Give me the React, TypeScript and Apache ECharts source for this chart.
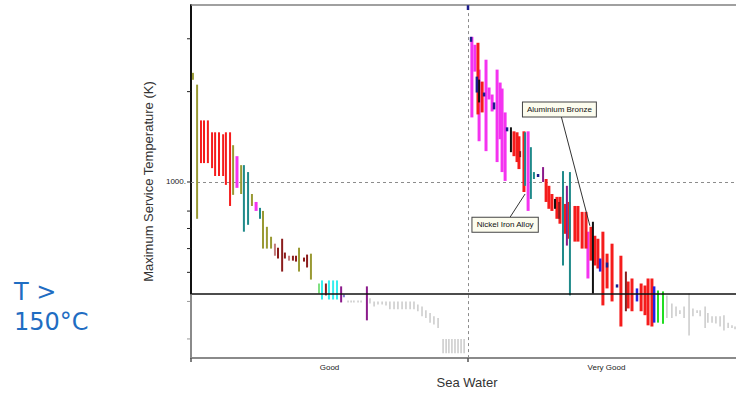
import { useEffect, useRef } from 'react';
import * as echarts from 'echarts';

// Maximum service temperature (K) ranges, each entry: [sea-water rating position, low, high]
const oliveBars = [
  [0.007, 2190, 2310], [0.022, 754, 2110], [0.152, 906, 1326], [0.181, 912, 1138],
  [0.22, 832, 912], [0.26, 600, 801], [0.274, 600, 709], [0.289, 600, 657],
  [0.39, 503, 604], [0.433, 473, 577],
];
const redBarsGood = [
  [0.036, 1156, 1604], [0.047, 1156, 1604], [0.061, 1156, 1604], [0.076, 1112, 1464],
  [0.087, 1047, 1464], [0.101, 1047, 1464], [0.116, 1047, 1442], [0.126, 978, 1464],
  [0.141, 832, 1464],
];
const redBarsVeryGood = [
  [1.036, 1679, 2909], [1.051, 1705, 2160], [1.166, 1219, 1475], [1.177, 1165, 1464],
  [1.184, 1104, 1420], [1.202, 926, 1475], [1.282, 858, 1023], [1.292, 814, 971],
  [1.303, 801, 912], [1.321, 754, 892], [1.332, 726, 892], [1.35, 672, 845],
  [1.365, 647, 858], [1.386, 633, 832], [1.397, 633, 832], [1.412, 600, 795],
  [1.426, 600, 795], [1.444, 547, 709], [1.458, 527, 662], [1.469, 515, 647],
  [1.487, 388, 683], [1.502, 442, 577], [1.52, 400, 623], [1.552, 330, 568],
  [1.578, 379, 466], [1.592, 371, 477], [1.625, 371, 459], [1.639, 360, 452],
  [1.65, 333, 477], [1.664, 330, 477],
];
const magentaBars = [
  [0.166, 956, 1219], [0.235, 801, 858],
  [1.014, 1641, 3045], [1.025, 2332, 2865], [1.04, 1367, 2368], [1.065, 1267, 2555],
  [1.076, 1883, 2064], [1.087, 1718, 1956], [1.105, 1165, 2368], [1.116, 1388, 2144],
  [1.123, 1079, 2048], [1.134, 1008, 1705], [1.217, 801, 1475], [1.433, 477, 683],
];
const tealBars = [
  [0.191, 683, 1138], [0.206, 720, 1079], [0.249, 754, 820],
  [1.206, 971, 1464], [1.227, 878, 1306], [1.238, 1023, 1079], [1.343, 527, 1087],
  [1.368, 419, 1079],
];
const darkRedBars = [
  [0.314, 556, 604], [0.329, 503, 647], [0.339, 556, 582], [0.368, 547, 568],
  [0.379, 543, 568], [0.408, 543, 560], [0.419, 519, 573], [0.487, 419, 459],
  [1.188, 1210, 1267], [1.329, 754, 858], [1.57, 371, 503],
];
const rosyBars = [[0.303, 568, 623], [0.354, 547, 568]];
const cyanBars = [[0.473, 406, 470], [0.498, 406, 470], [0.513, 406, 470], [0.527, 406, 470]];
const lightGreenBars = [[0.462, 425, 459]];
const purpleBars = [[0.542, 397, 449], [0.635, 346, 449], [1.271, 1000, 1121], [1.357, 614, 971]];
const lavenderBars = [[0.552, 413, 422]];
const navyBars = [
  [1.0, 3740, 3880], [1.011, 2931, 3045], [1.032, 1986, 2244], [1.058, 1927, 1986],
  [1.094, 1745, 1841], [1.141, 1475, 1521], [1.253, 1039, 1063], [1.502, 519, 539],
  [1.538, 445, 456],
];
const blackBars = [[1.04, 1841, 2193], [1.155, 1257, 1521], [1.314, 814, 878], [1.451, 425, 737]];
const blueBars = [[1.477, 503, 556], [1.61, 400, 442], [1.672, 340, 449]];
const greenBars = [[1.686, 340, 435], [1.704, 337, 432]];
const grayBars = [
  [0.567, 397, 403], [0.578, 397, 403], [0.588, 397, 403], [0.603, 397, 403], [0.614, 397, 403],
  [0.646, 394, 410], [0.661, 385, 400], [0.675, 391, 400], [0.69, 391, 400], [0.704, 388, 400],
  [0.718, 377, 400], [0.733, 377, 400], [0.747, 377, 400], [0.762, 377, 400], [0.776, 377, 400],
  [0.791, 377, 400], [0.805, 377, 400], [0.819, 371, 391], [0.834, 357, 385], [0.848, 352, 374],
  [0.863, 340, 366], [0.877, 335, 357], [0.892, 326, 352],
  [0.91, 269, 300], [0.921, 269, 300], [0.931, 269, 300], [0.942, 269, 300], [0.953, 269, 300],
  [0.964, 269, 300], [0.975, 269, 300], [0.986, 269, 300],
  [1.718, 352, 419], [1.736, 352, 394], [1.751, 357, 385], [1.765, 363, 374], [1.78, 352, 385],
  [1.798, 308, 425], [1.812, 357, 379], [1.827, 366, 374], [1.838, 357, 374], [1.856, 326, 385],
  [1.866, 340, 366], [1.881, 340, 357], [1.895, 338, 357], [1.91, 330, 357], [1.924, 320, 360],
  [1.939, 326, 340], [1.953, 326, 333], [1.964, 323, 330],
];

// Axes
const tempMin = 259;
const tempMax = 3887;
const tempTicks = [300, 400, 500, 600, 700, 800, 1000, 2000, 3000];
const limitTemp = 423; // 150 °C
const ratingMin = 0;
const ratingMax = 1.9675;
const ratingTicks = [0, 1];
const ratingLabelPositions = [0.5, 1.5];
const ratingLabels = ['Good', 'Very Good'];

// Callouts: [anchor rating, anchor temp, label rating, label temp]
const calloutNames = ['Aluminium Bronze', 'Nickel Iron Alloy'];
const calloutPoints = [
  [1.44, 715, 1.33, 1745],
  [1.206, 912, 1.134, 720],
];

const FONT = '"Liberation Sans", Arial, sans-serif';

function barSeries(name: string, data: number[][], color: string, width: number) {
  return {
    type: 'custom',
    name,
    data,
    clip: false,
    z: 3,
    encode: { x: 0, y: [1, 2] },
    renderItem: (_params: any, api: any) => {
      const x = api.value(0);
      const top = api.coord([x, api.value(2)]);
      const bottom = api.coord([x, api.value(1)]);
      return {
        type: 'rect',
        shape: {
          x: top[0] - width / 2,
          y: top[1],
          width,
          height: Math.max(1.5, bottom[1] - top[1]),
        },
        style: { fill: color },
      };
    },
  };
}

export default function App() {
  const ref = useRef<HTMLDivElement>(null);

  useEffect(() => {
    if (!ref.current) return;
    const chart = echarts.init(ref.current, undefined, { renderer: 'svg' });

    chart.setOption({
      animation: false,
      backgroundColor: '#ffffff',
      graphic: [
        {
          type: 'text',
          left: 14,
          top: 277,
          style: {
            text: 'T >\n150°C',
            fontSize: 24,
            fontFamily: '"DejaVu Sans", Verdana, sans-serif',
            lineHeight: 30,
            fill: '#1f6dc2',
          },
        },
      ],
      grid: {
        left: 191,
        right: 0,
        top: 5,
        bottom: 34,
        show: false,
      },
      xAxis: {
        type: 'value',
        min: ratingMin,
        max: ratingMax,
        interval: 0.5,
        name: 'Sea Water',
        nameLocation: 'middle',
        nameGap: 14,
        nameTextStyle: { fontSize: 13, fontFamily: FONT, color: '#333', padding: [0, 0, 0, 7] },
        axisLine: { show: true, lineStyle: { color: '#8a8a8a', width: 2 } },
        axisTick: { show: false },
        splitLine: { show: false },
        axisLabel: {
          fontSize: 8,
          fontFamily: FONT,
          color: '#222',
          margin: 5,
          showMaxLabel: false,
          formatter: (v: number) => {
            const i = ratingLabelPositions.findIndex((p) => Math.abs(p - v) < 1e-6);
            return i >= 0 ? ratingLabels[i] : '';
          },
        },
      },
      yAxis: {
        type: 'log',
        logBase: 10,
        min: tempMin,
        max: tempMax,
        name: 'Maximum Service Temperature (K)',
        nameLocation: 'middle',
        nameGap: 26,
        nameTextStyle: { fontSize: 13, fontFamily: FONT, color: '#333' },
        axisLine: { show: true, lineStyle: { color: '#111', width: 2 } },
        axisTick: { show: false },
        splitLine: { show: false },
        axisLabel: {
          fontSize: 8,
          fontFamily: FONT,
          color: '#222',
          margin: 5,
          formatter: (v: number) => (Math.abs(v - 1000) < 1 ? '1000.' : ''),
        },
      },
      series: [
        {
          type: 'line',
          data: [],
          z: 1,
          markLine: {
            silent: true,
            symbol: ['none', 'none'],
            label: { show: false },
            z: 1,
            lineStyle: { color: '#8c8c8c', width: 1, type: [3, 3] },
            data: [
              { yAxis: 1000 },
              { xAxis: 1 },
              { yAxis: tempMax, lineStyle: { color: '#808080', width: 1.5, type: 'solid' } },
            ],
          },
        },
        barSeries('Lead alloys', grayBars, '#cacaca', 1.5),
        barSeries('Magnesium alloys', magentaBars, '#f433f0', 3),
        barSeries('Stainless steels', redBarsGood, '#f51c1c', 2),
        barSeries('Nickel-based steels', redBarsVeryGood, '#f51c1c', 3),
        barSeries('Cobalt alloys', tealBars, '#1f8a8a', 2),
        barSeries('Titanium alloys', oliveBars, '#999933', 2),
        barSeries('Copper alloys', darkRedBars, '#8b1c1c', 2),
        barSeries('Zinc alloys', rosyBars, '#c27a7a', 2),
        barSeries('Tin alloys', purpleBars, '#8b1a8b', 2),
        barSeries('Aluminium alloys', cyanBars, '#35eeee', 2),
        barSeries('Polymers', lightGreenBars, '#80e080', 2),
        barSeries('Elastomers', lavenderBars, '#8080d0', 2),
        barSeries('Nickel alloys', blueBars, '#2323e0', 2.5),
        barSeries('Foams', greenBars, '#22dd22', 2),
        barSeries('Tungsten alloys', blackBars, '#111111', 2),
        barSeries('Silver alloys', navyBars, '#1c1c8c', 2.5),
        {
          type: 'custom',
          name: 'ticks',
          clip: false,
          z: 6,
          data: tempTicks.map((t) => [ratingMin, t]),
          encode: { x: 0, y: 1 },
          renderItem: (_p: any, api: any) => {
            const t = api.value(1);
            const p = api.coord([ratingMin, t]);
            return {
              type: 'line',
              shape: { x1: p[0] - 4, y1: p[1], x2: p[0], y2: p[1] },
              style: { stroke: t < limitTemp ? '#9a9a9a' : '#222', lineWidth: 1 },
            };
          },
        },
        {
          type: 'custom',
          name: 'rating ticks',
          clip: false,
          z: 6,
          data: ratingTicks.map((x) => [x, tempMin]),
          encode: { x: 0, y: 1 },
          renderItem: (_p: any, api: any) => {
            const p = api.coord([api.value(0), tempMin]);
            return {
              type: 'line',
              shape: { x1: p[0], y1: p[1], x2: p[0], y2: p[1] + 4 },
              style: { stroke: '#555', lineWidth: 1.5 },
            };
          },
        },
        {
          type: 'line',
          data: [],
          z: 7,
          markLine: {
            silent: true,
            symbol: ['none', 'none'],
            label: { show: false },
            z: 7,
            data: [
              { yAxis: limitTemp, lineStyle: { color: '#111', width: 1.5, type: 'solid' } },
              [
                { coord: [ratingMin, tempMin], lineStyle: { color: '#8a8a8a', width: 2, type: 'solid' } },
                { coord: [ratingMin, limitTemp] },
              ],
            ],
          },
        },
        {
          type: 'custom',
          name: 'callouts',
          clip: false,
          z: 8,
          data: calloutPoints,
          encode: { x: [0, 2], y: [1, 3] },
          renderItem: (params: any, api: any) => {
            const a = api.coord([api.value(0), api.value(1)]);
            const b = api.coord([api.value(2), api.value(3)]);
            return {
              type: 'group',
              children: [
                {
                  type: 'line',
                  shape: { x1: a[0], y1: a[1], x2: b[0], y2: b[1] },
                  style: { stroke: '#333', lineWidth: 1 },
                },
                {
                  type: 'text',
                  x: b[0],
                  y: b[1],
                  style: {
                    text: calloutNames[params.dataIndex],
                    align: 'center',
                    verticalAlign: 'middle',
                    fontSize: 8,
                    fontFamily: FONT,
                    fill: '#111',
                    backgroundColor: '#fcfcee',
                    borderColor: '#444',
                    borderWidth: 1,
                    padding: [3, 4],
                  },
                },
              ],
            };
          },
        },
      ],
    });

    return () => chart.dispose();
  }, []);

  return (
    <div
      ref={ref}
      style={{ position: 'fixed', left: 0, top: 0, width: 736, height: 394, background: '#fff' }}
    />
  );
}
